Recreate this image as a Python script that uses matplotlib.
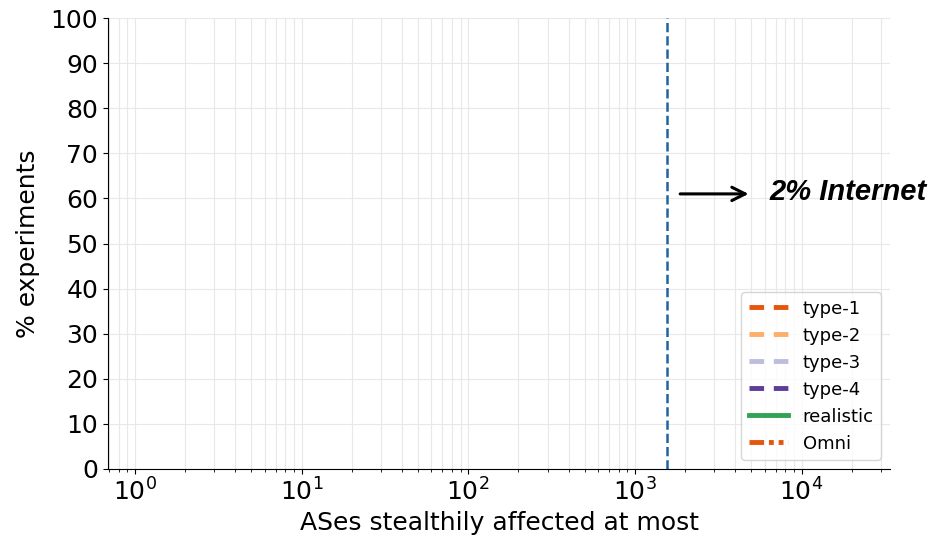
import matplotlib
matplotlib.use('Agg')
import matplotlib.pyplot as plt

# series shown in the legend (no points drawn for this run)
series_names = ["type-1", "type-2", "type-3", "type-4", "realistic", "Omni"]
series_x = {name: [] for name in series_names}
series_y = {name: [] for name in series_names}
series_colors = ["#e6550d", "#fdae6b", "#bcbddc", "#5e3c99", "#31a354", "#e6550d"]
series_styles = [(0, (3, 2)), (0, (3, 2)), (0, (3, 2)), (0, (3, 2)), "-", (0, (3, 1, 1, 1, 1, 1))]

internet_2pct = 1560      # 2% of all ASes
arrow_y = 61
arrow_from, arrow_to = 1800, 5000
label_x = 6400

fig = plt.figure(figsize=(9.34, 5.41), dpi=100)
ax = fig.add_axes([0.1156, 0.1331, 0.8374, 0.8336])

for name, c, ls in zip(series_names, series_colors, series_styles):
    ax.plot(series_x[name], series_y[name], color=c, linestyle=ls, lw=3.5, label=name)

ax.axvline(internet_2pct, color="#1f64a0", linestyle="--", lw=1.8)

ax.annotate("", xy=(arrow_to, arrow_y), xytext=(arrow_from, arrow_y),
            arrowprops=dict(arrowstyle="->", lw=2.2, color="black", mutation_scale=24))
ax.text(label_x, arrow_y + 0.5, "2% Internet", fontsize=21, fontweight="bold",
        fontstyle="italic", family="Liberation Sans", va="center", ha="left",
        clip_on=False)

ax.set_xscale("log")
ax.set_xlim(0.69, 34000)
ax.set_ylim(0, 100)
ax.set_yticks(range(0, 101, 10))
ax.tick_params(labelsize=18)
ax.set_xlabel("ASes stealthily affected at most", fontsize=18)
ax.set_ylabel("% experiments", fontsize=18, labelpad=8)

ax.grid(True, which="major", color="0.91", lw=0.8)
ax.grid(True, which="minor", axis="x", color="0.91", lw=0.8)
ax.set_axisbelow(True)
ax.spines["top"].set_visible(False)
ax.spines["right"].set_visible(False)

ax.legend(loc="lower right", fontsize=13, handlelength=2.2, framealpha=0.8)

plt.savefig("out.png", dpi=100)
